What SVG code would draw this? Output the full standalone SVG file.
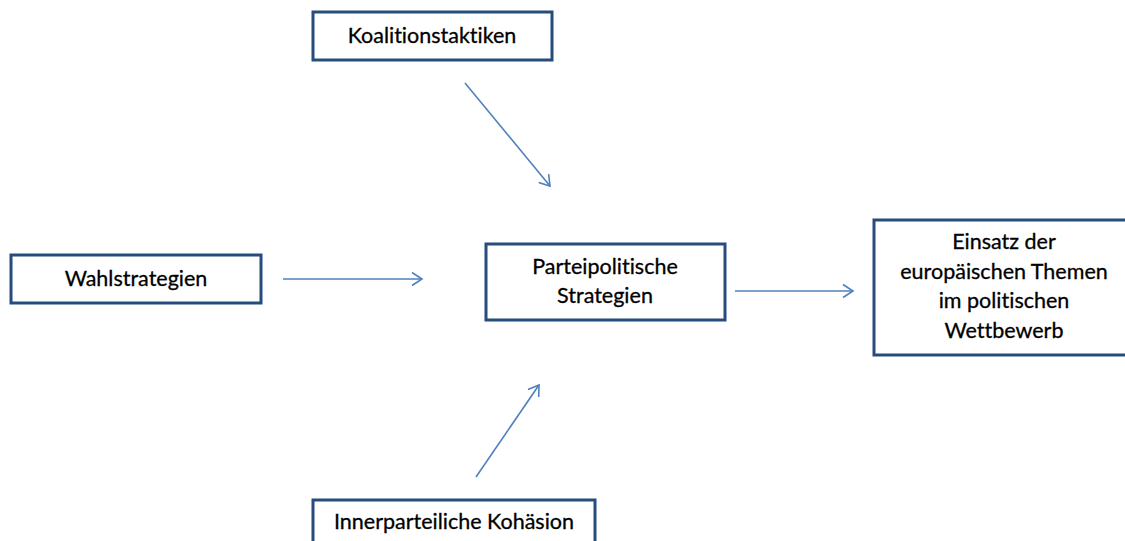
<svg xmlns="http://www.w3.org/2000/svg" width="1125" height="541" viewBox="0 0 1125 541">
<style>
.box{fill:#fff;stroke:#264c7e;stroke-width:3}
.t{font-family:Lato,"Open Sans",sans-serif;font-size:21.5px;fill:#000;text-anchor:middle;stroke:#000;stroke-width:0.3;font-variant-ligatures:none;font-feature-settings:"liga" 0,"dlig" 0}
.c{stroke:#4f81bd;stroke-width:1.6;fill:none;marker-end:url(#ah)}
</style>
<defs>
<marker id="ah" markerUnits="userSpaceOnUse" markerWidth="16" markerHeight="16" refX="13" refY="8" orient="auto" viewBox="0 0 16 16">
<path d="M3,1.5 L13,8 L3,14.5" fill="none" stroke="#4f81bd" stroke-width="1.6"/>
</marker>
</defs>
<rect width="1125" height="541" fill="#fff"/>
<g id="koalitionstaktiken"><rect class="box" x="313" y="12" width="239" height="48"/><text class="t" x="432" y="43">Koalitionstaktiken</text></g>
<g id="wahlstrategien"><rect class="box" x="11" y="255" width="250" height="48"/><text class="t" x="136" y="286">Wahlstrategien</text></g>
<g id="parteipolitische"><rect class="box" x="486" y="244" width="239" height="76"/><text class="t" x="605" y="274">Parteipolitische</text><text class="t" x="605" y="303">Strategien</text></g>
<g id="einsatz"><rect class="box" x="874" y="220" width="260" height="135"/><text class="t" x="1004" y="249">Einsatz der</text><text class="t" x="1004" y="279">europäischen Themen</text><text class="t" x="1004" y="308">im politischen</text><text class="t" x="1004" y="338">Wettbewerb</text></g>
<g id="kohaesion"><rect class="box" x="313" y="500" width="282" height="60"/><text class="t" x="454" y="529">Innerparteiliche Kohäsion</text></g>
<g id="connectors">
<line class="c" x1="465" y1="83" x2="550" y2="186"/>
<line class="c" x1="283" y1="279" x2="422" y2="279"/>
<line class="c" x1="476" y1="477" x2="539" y2="385"/>
<line class="c" x1="735" y1="291" x2="853" y2="291"/>
</g>
</svg>
